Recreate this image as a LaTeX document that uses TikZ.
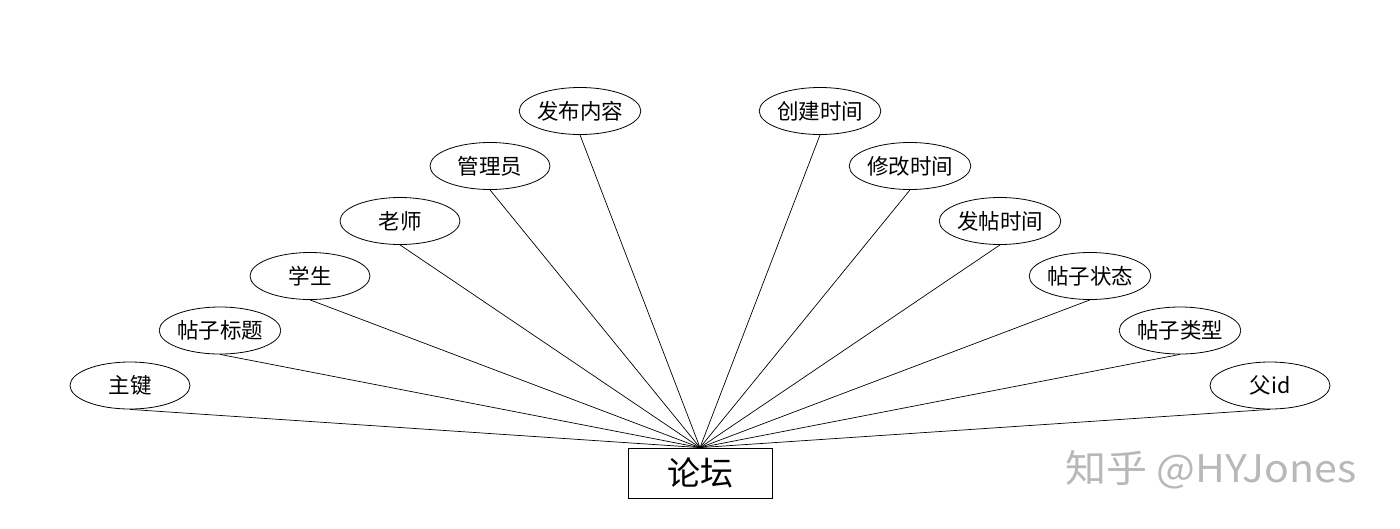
\documentclass[tikz,border=0pt]{standalone}
\usepackage{fontspec}
\usetikzlibrary{shapes.geometric}
\setmainfont{Noto Sans CJK SC}
\newfontfamily\wmfont{Noto Sans CJK SC}
\begin{document}
\begin{tikzpicture}[x=1pt,y=-1pt,
  attr/.style={draw=black,line width=0.8pt,ellipse,minimum width=120pt,minimum height=47pt,inner sep=0pt,font=\fontsize{21.5}{23}\selectfont},
  ent/.style={draw=black,line width=0.8pt,rectangle,minimum width=144pt,minimum height=50pt,inner sep=0pt,font=\fontsize{33}{36}\selectfont},
  conn/.style={draw=black,line width=0.7pt}]
\useasboundingbox (0,0) rectangle (1400,528);
\fill[white] (0,0) rectangle (1400,528);
\node[ent] (forum) at (700,473) {论坛};
\node[attr] (a1) at (130,385.5) {主键};
\node[attr] (a2) at (220,330.5) {帖子标题};
\node[attr] (a3) at (310,276) {学生};
\node[attr] (a4) at (400,221) {老师};
\node[attr] (a5) at (490,166) {管理员};
\node[attr] (a6) at (580,111) {发布内容};
\node[attr] (b1) at (820,111) {创建时间};
\node[attr] (b2) at (910,166) {修改时间};
\node[attr] (b3) at (1000,221) {发帖时间};
\node[attr] (b4) at (1090,276) {帖子状态};
\node[attr] (b5) at (1180,330.5) {帖子类型};
\node[attr] (b6) at (1270,385.5) {父id};
\foreach \n in {a1,a2,a3,a4,a5,a6,b1,b2,b3,b4,b5,b6}
  \draw[conn] (\n.south) -- (forum.north);
\node[text=black!28,font=\wmfont\fontsize{38}{40}\selectfont,anchor=west,inner sep=0pt,xscale=1.08] (wm) at (1065,470) {知乎 @HYJones};
\end{tikzpicture}
\end{document}
